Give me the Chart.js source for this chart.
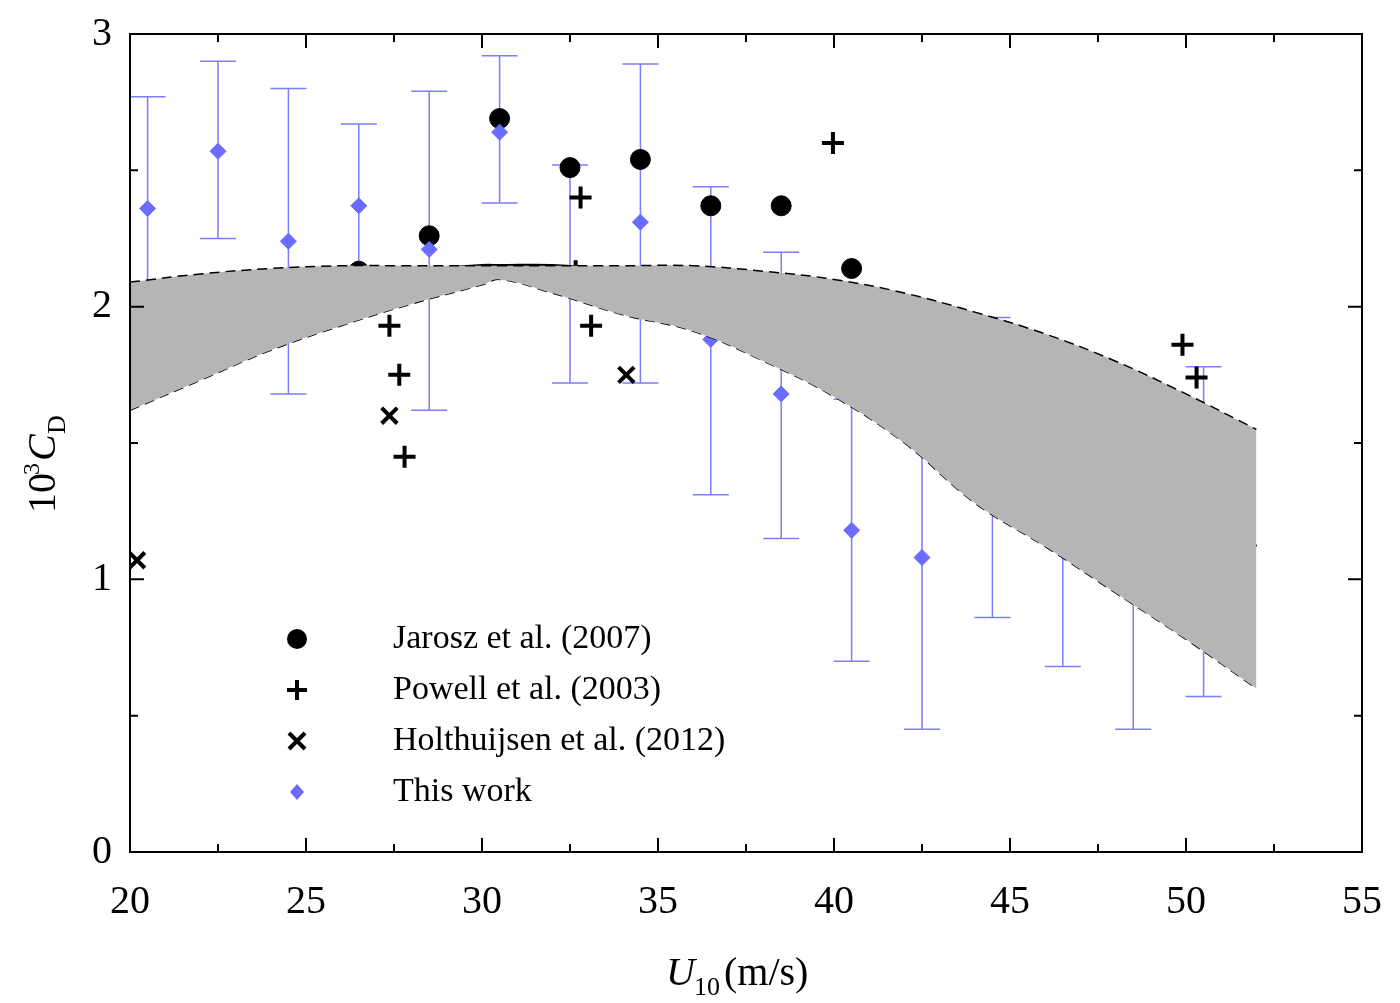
<!DOCTYPE html>
<html><head><meta charset="utf-8">
<script src="https://cdn.jsdelivr.net/npm/chart.js@4"></script>
<style>html,body{margin:0;background:#fff}#wrap{width:1400px;height:1003px}</style>
</head><body><div id="wrap"><canvas id="c" width="1400" height="1003"></canvas></div>
<script>
// --- data ---
const jaroszX = [20.5,22.5,24.5,26.5,28.5,30.5,32.5,34.5,36.5,38.5,40.5,42.5,44.5,46.5];
const jaroszY = [2.02,1.98,1.93,2.13,2.26,2.69,2.51,2.54,2.37,2.37,2.14,1.96,1.54,1.36];
const powellX = [27.37,27.65,27.8,32.8,32.66,33.1,39.97,41.3,49.9,50.3,50.9];
const powellY = [1.93,1.75,1.45,2.40,2.13,1.93,2.60,1.84,1.86,1.74,1.51];
const holtX = [20.2,27.37,34.1,40.9,51.45];
const holtY = [1.07,1.60,1.75,2.03,1.25];
const workX = [20.5,22.5,24.5,26.5,28.5,30.5,32.5,34.5,36.5,38.5,40.5,42.5,44.5,46.5,48.5,50.5];
const workY = [2.36,2.57,2.24,2.37,2.21,2.64,2.12,2.31,1.88,1.68,1.18,1.08,1.41,1.16,0.98,1.18];
const workHi = [2.77,2.90,2.80,2.67,2.79,2.92,2.52,2.89,2.44,2.20,1.66,1.71,1.96,1.63,1.51,1.78];
const workLo = [1.96,2.25,1.68,2.07,1.62,2.38,1.72,1.72,1.31,1.15,0.70,0.45,0.86,0.68,0.45,0.57];
const fitX = [20,22,24,26,28,30,30.5,32,34,36,38,40,42,44,46,48,50,52];
const fitMean = [1.92,1.99,2.05,2.10,2.13,2.15,2.15,2.15,2.13,2.10,2.04,1.96,1.85,1.72,1.57,1.42,1.26,1.12];
const fitUp = [2.09,2.12,2.14,2.15,2.15,2.15,2.15,2.15,2.15,2.15,2.13,2.10,2.05,1.98,1.90,1.80,1.68,1.55];
const fitLow = [1.62,1.73,1.84,1.93,2.01,2.08,2.10,2.05,1.97,1.91,1.80,1.67,1.50,1.28,1.12,0.95,0.78,0.60];
const xTicks = [20,25,30,35,40,45,50,55];
const yTicks = [0,1,2,3];

const BLUE = '#6b6bff', BAR = '#7c7cff';
const pts = (xs, ys) => xs.map((x, i) => ({x, y: ys[i]}));
const FONT = '"Liberation Serif", "DejaVu Serif", serif';

function drawMarker(ctx, kind, x, y) {
  ctx.save();
  ctx.strokeStyle = '#000'; ctx.fillStyle = '#000'; ctx.lineWidth = 4;
  if (kind === 'circle') { ctx.beginPath(); ctx.arc(x, y, 10, 0, Math.PI*2); ctx.fill(); }
  if (kind === 'plus') { ctx.beginPath(); ctx.moveTo(x-10,y); ctx.lineTo(x+10,y); ctx.moveTo(x,y-10); ctx.lineTo(x,y+10); ctx.stroke(); }
  if (kind === 'cross') { ctx.beginPath(); ctx.moveTo(x-8,y-8); ctx.lineTo(x+8,y+8); ctx.moveTo(x+8,y-8); ctx.lineTo(x-8,y+8); ctx.stroke(); }
  if (kind === 'diamond') { ctx.fillStyle = BLUE; ctx.beginPath(); ctx.moveTo(x,y-8); ctx.lineTo(x+7,y); ctx.lineTo(x,y+8); ctx.lineTo(x-7,y); ctx.closePath(); ctx.fill(); }
  ctx.restore();
}

const decor = {
  id: 'decor',
  beforeDatasetsDraw(chart) {
    const {ctx, scales: {x, y}} = chart;
    ctx.save(); ctx.strokeStyle = BAR; ctx.lineWidth = 1.5;
    workX.forEach((wx, i) => {
      const px = x.getPixelForValue(wx), t = y.getPixelForValue(workHi[i]), b = y.getPixelForValue(workLo[i]);
      ctx.beginPath(); ctx.moveTo(px, t); ctx.lineTo(px, b);
      ctx.moveTo(px-18, t); ctx.lineTo(px+18, t); ctx.moveTo(px-18, b); ctx.lineTo(px+18, b); ctx.stroke();
    });
    ctx.restore();
  },
  afterDraw(chart) {
    const {ctx, chartArea: a, scales: {x, y}} = chart;
    ctx.save();
    ctx.strokeStyle = '#000'; ctx.lineWidth = 2;
    ctx.strokeRect(a.left, a.top, a.right - a.left, a.bottom - a.top);
    ctx.beginPath();
    for (let v = 20; v <= 55; v += 2.5) {
      const px = x.getPixelForValue(v), len = v % 5 === 0 ? 14 : 8;
      ctx.moveTo(px, a.bottom); ctx.lineTo(px, a.bottom - len);
      ctx.moveTo(px, a.top); ctx.lineTo(px, a.top + len);
    }
    for (let v = 0; v <= 3; v += 0.5) {
      const py = y.getPixelForValue(v), len = v % 1 === 0 ? 14 : 8;
      ctx.moveTo(a.left, py); ctx.lineTo(a.left + len, py);
      ctx.moveTo(a.right, py); ctx.lineTo(a.right - len, py);
    }
    ctx.stroke();
    // axis titles
    ctx.fillStyle = '#000'; ctx.textBaseline = 'alphabetic';
    ctx.font = 'italic 40px ' + FONT; ctx.textAlign = 'left';
    const cx = (a.left + a.right) / 2 - 80;
    ctx.fillText('U', cx, 985);
    ctx.font = '26px ' + FONT; ctx.fillText('10', cx + 28, 995);
    ctx.font = '40px ' + FONT; ctx.fillText('(m/s)', cx + 58, 985);
    ctx.translate(55, (a.top + a.bottom) / 2); ctx.rotate(-Math.PI/2);
    ctx.font = '40px ' + FONT; ctx.fillText('10', -70, 0);
    ctx.font = '24px ' + FONT; ctx.fillText('3', -32, -16);
    ctx.font = 'italic 40px ' + FONT; ctx.fillText('C', -18, 0);
    ctx.font = '26px ' + FONT; ctx.fillText('D', 9, 10);
    ctx.restore();
    // legend
    ctx.save(); ctx.font = '34px ' + FONT; ctx.fillStyle = '#000'; ctx.textBaseline = 'middle';
    const items = [['circle','Jarosz et al. (2007)'],['plus','Powell et al. (2003)'],['cross','Holthuijsen et al. (2012)'],['diamond','This work']];
    items.forEach(([k, t], i) => {
      const yy = 639 + i * 51;
      drawMarker(ctx, k, 297, yy);
      ctx.fillText(t, 393, yy);
    });
    ctx.restore();
  }
};

const custom = kind => ({
  pointStyle: (c) => { return false; }
});

new Chart(document.getElementById('c'), {
  type: 'scatter',
  data: { datasets: [
    { type: 'line', data: pts(fitX, fitUp), borderColor: '#000', borderWidth: 1.5, borderDash: [10, 6], pointRadius: 0, fill: '+1', backgroundColor: '#b5b5b5', tension: 0.4 },
    { type: 'line', data: pts(fitX, fitLow), borderColor: '#000', borderWidth: 1.5, borderDash: [10, 6], pointRadius: 0, fill: false, tension: 0.4 },
    { type: 'line', data: pts(fitX, fitMean), borderColor: '#000', borderWidth: 3.5, pointRadius: 0, fill: false, tension: 0.4 },
    { data: pts(workX, workY), pointStyle: 'rectRot', pointRadius: 8, backgroundColor: BLUE, borderColor: BLUE },
    { data: pts(jaroszX, jaroszY), pointStyle: 'circle', pointRadius: 10, backgroundColor: '#000', borderColor: '#000' },
    { data: pts(powellX, powellY), pointStyle: 'cross', pointRadius: 11, borderColor: '#000', borderWidth: 4 },
    { data: pts(holtX, holtY), pointStyle: 'crossRot', pointRadius: 11, borderColor: '#000', borderWidth: 4 }
  ]},
  options: {
    responsive: false, animation: false,
    layout: { padding: { top: 25, right: 30, left: 0, bottom: 0 } },
    plugins: { legend: { display: false }, tooltip: { enabled: false } },
    scales: {
      x: { type: 'linear', min: 20, max: 55, afterBuildTicks: s => { s.ticks = xTicks.map(v => ({value: v})); },
        afterFit: s => { s.height = 151; }, grid: { display: false }, border: { display: false },
        ticks: { color: '#000', font: { family: FONT, size: 40 }, padding: 18, maxRotation: 0 } },
      y: { min: 0, max: 3, afterBuildTicks: s => { s.ticks = yTicks.map(v => ({value: v})); },
        afterFit: s => { s.width = 130; }, grid: { display: false }, border: { display: false },
        ticks: { color: '#000', font: { family: FONT, size: 40 }, padding: 10 } }
    }
  },
  plugins: [decor]
});
</script></body></html>
